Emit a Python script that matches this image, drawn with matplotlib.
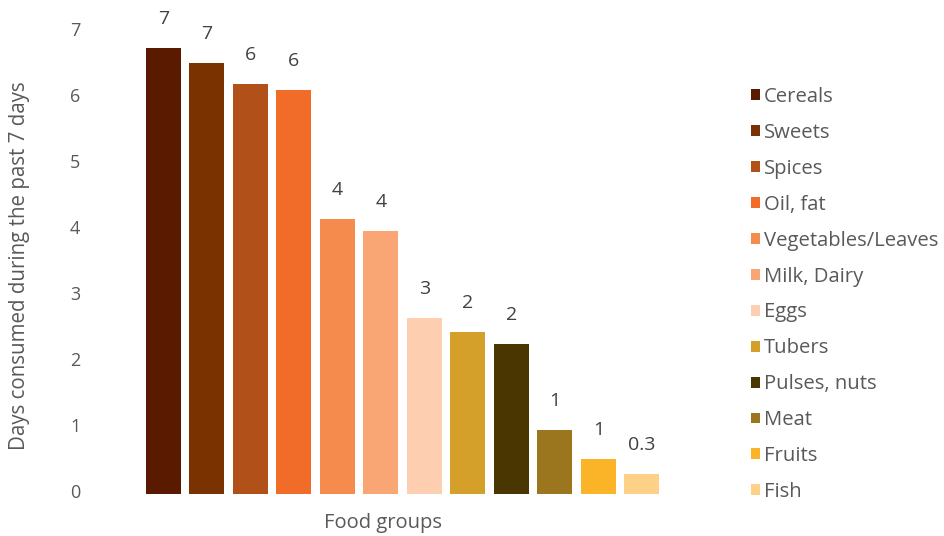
import numpy as np
import matplotlib.pyplot as plt
from matplotlib.transforms import ScaledTranslation

plt.rcParams['font.family'] = ['Open Sans', 'DejaVu Sans']

groups = ['Cereals', 'Sweets', 'Spices', 'Oil, fat', 'Vegetables/Leaves', 'Milk, Dairy',
          'Eggs', 'Tubers', 'Pulses, nuts', 'Meat', 'Fruits', 'Fish']
days = [6.76, 6.53, 6.21, 6.12, 4.17, 3.98, 2.67, 2.45, 2.27, 0.97, 0.53, 0.30]
shown = ['7', '7', '6', '6', '4', '4', '3', '2', '2', '1', '1', '0.3']
colors = ['#5a1a00', '#7a3200', '#b2501a', '#f06c28', '#f58c4d', '#f9a574',
          '#fdceb0', '#d4a02a', '#4a3600', '#9b761e', '#fbb428', '#ffd088']

txt = '#595959'

fig = plt.figure(figsize=(9.44, 5.36), dpi=100)
ax = fig.add_axes([0.150, 0.078, 0.553, 0.862])

x = np.arange(len(groups))
bars = ax.bar(x, days, width=0.8, color=colors, label=groups)

for xi, v, s in zip(x, days, shown):
    ax.annotate(s, (xi, v), xytext=(0, 21), textcoords='offset points',
                ha='center', va='center', fontsize=14, color='#404040', clip_on=False)

ax.set_xlim(-0.5, len(groups) - 0.5)
ax.set_ylim(0, 7)
ax.set_yticks(range(8))
ax.set_xticks([])
for sp in ax.spines.values():
    sp.set_visible(False)
ax.tick_params(axis='y', length=0, pad=44, labelsize=13, labelcolor=txt)
for lab in ax.get_yticklabels():
    lab.set_transform(lab.get_transform() + ScaledTranslation(0, 3 / 100, fig.dpi_scale_trans))

ax.set_ylabel('Days consumed during the past 7 days', fontsize=14.8, color=txt)
ax.yaxis.set_label_coords(-0.214, 0.494)
ax.set_xlabel('Food groups', fontsize=14.5, color=txt)
ax.xaxis.set_label_coords(0.462, -0.041)

leg = ax.legend(handles=list(bars), labels=groups, loc='upper left',
                bbox_to_anchor=(1.151, 0.899), frameon=False, fontsize=14.6,
                handlelength=0.45, handleheight=0.45, handletextpad=0.2,
                labelspacing=0.785, borderaxespad=0)
for t in leg.get_texts():
    t.set_color(txt)

fig.savefig('out.png', dpi=100)
